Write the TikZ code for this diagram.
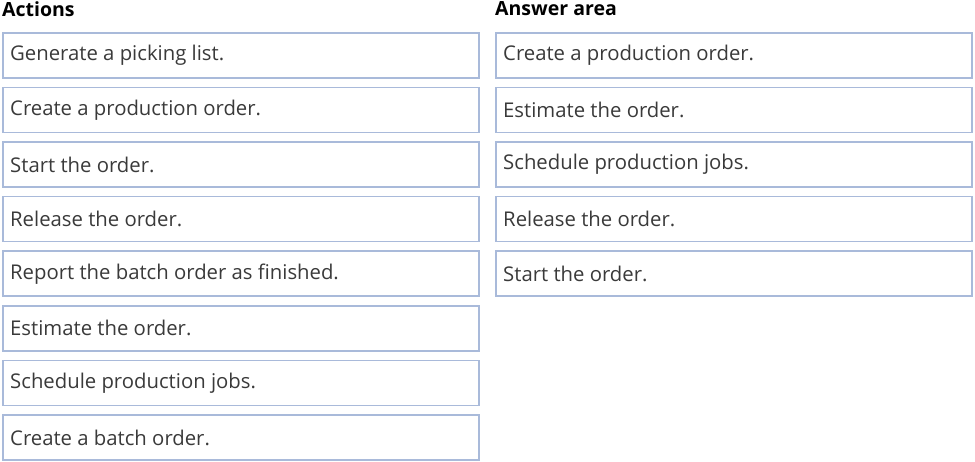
\documentclass[tikz,border=0pt]{standalone}
\usepackage{fontspec}
\setmainfont{Open Sans}
\begin{document}
\begin{tikzpicture}[x=1pt,y=-1pt,
  itembox/.style={draw=boxblue, line width=1.6pt, fill=white, minimum width=476pt, minimum height=45pt, anchor=north west, inner sep=0pt},
  itemtext/.style={anchor=west, inner sep=0pt, font=\fontsize{20.3}{24}\selectfont, text=textgray},
  title/.style={anchor=north west, font=\bfseries\fontsize{19.5}{23}\selectfont, inner sep=0pt}]
\definecolor{boxblue}{HTML}{A9BADA}
\definecolor{textgray}{HTML}{3A3A3A}
\useasboundingbox (0,0) rectangle (975,461);
\node[title] (tA) at (2,1) {Actions};
\node[title] (tB) at (495,1) {Answer area};
\foreach \i/\t in {0/Generate a picking list.,1/Create a production order.,2/Start the order.,3/Release the order.,4/Report the batch order as finished.,5/Estimate the order.,6/Schedule production jobs.,7/Create a batch order.}{
  \node[itembox] (L\i) at (2,32+54.6*\i) {};
  \node[itemtext] (LT\i) at ([xshift=8pt]L\i.west) {\t};
}
\foreach \i/\t in {0/Create a production order.,1/Estimate the order.,2/Schedule production jobs.,3/Release the order.,4/Start the order.}{
  \node[itembox] (R\i) at (495,32+54.6*\i) {};
  \node[itemtext] (RT\i) at ([xshift=8pt]R\i.west) {\t};
}
\end{tikzpicture}
\end{document}
